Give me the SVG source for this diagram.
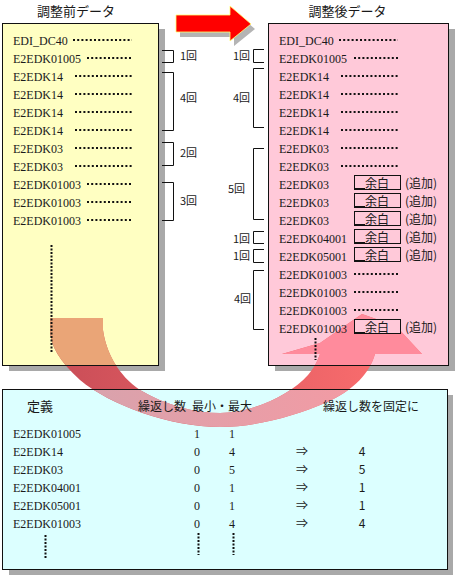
<svg xmlns="http://www.w3.org/2000/svg" width="456" height="580" viewBox="0 0 456 580">
<defs>
<style>
.lat{font-family:"Liberation Serif","Noto Sans CJK JP",serif;font-size:12px;fill:#1a1a1a}
.jp{font-family:"Noto Sans CJK JP",sans-serif;fill:#1a1a1a}
.t{font-size:13px}
.h{font-size:12px}
.lb{font-size:11px}
.dots{stroke:#111;stroke-width:2;stroke-dasharray:2 2.2;fill:none}
.vdots{stroke:#111;stroke-width:2;stroke-dasharray:2 1.5;fill:none}
.br{fill:none;stroke:#111;stroke-width:1}
.shadow{fill:#a9a9a9}
.border{fill:none;stroke:#111;stroke-width:1}
.yel{fill:#ffffc2}
.pnk{fill:#ffc9d9}
.cyn{fill:#dcffff}
.yoha{fill:#ffc9d9;stroke:#111;stroke-width:1}
</style>
<linearGradient id="gBase" x1="50" y1="0" x2="422" y2="0" gradientUnits="userSpaceOnUse">
<stop offset="0" stop-color="#c94d57"/><stop offset="1" stop-color="#ff7070"/>
</linearGradient>
<linearGradient id="gCyan" x1="60" y1="0" x2="380" y2="0" gradientUnits="userSpaceOnUse">
<stop offset="0" stop-color="#d6a3ad"/><stop offset="1" stop-color="#f59aa3"/>
</linearGradient>
<clipPath id="cY"><rect x="3" y="24" width="155" height="341"/></clipPath>
<clipPath id="cC"><rect x="3" y="390" width="444" height="179"/></clipPath>
<clipPath id="cP"><rect x="269" y="24" width="179" height="341"/></clipPath>
<path id="curve" d="M50,318 H103 V330 C106,352 118,375 140,390 C165,405 195,413 220,413 C255,412 290,395 308,375 C314,368 318,360 320,354 L282,354 L320,343 L362,314 L396,326 L422,354 L375,354 C370,372 355,390 325,403 C295,416 255,427 220,427 C170,427 110,405 80,380 C60,362 50,345 50,330 Z"/>
</defs>

<rect width="456" height="580" fill="#ffffff"/>

<!-- titles -->
<text class="jp t" x="76" y="16" text-anchor="middle">調整前データ</text>
<text class="jp t" x="347.5" y="16" text-anchor="middle">調整後データ</text>

<!-- box fills and shadows -->
<g id="box-before-bg">
<rect class="shadow" x="9" y="29" width="156" height="342"/>
<rect class="yel" x="2.5" y="23.5" width="156" height="342"/>
</g>
<g id="box-after-bg">
<rect class="shadow" x="275" y="29" width="180" height="342"/>
<rect class="pnk" x="268.5" y="23.5" width="180" height="342"/>
</g>
<g id="box-def-bg">
<rect class="shadow" x="9" y="395" width="444" height="180"/>
<rect class="cyn" x="2.5" y="389.5" width="445" height="180"/>
</g>

<!-- connectors -->
<g id="connectors">
<g id="curved-arrow">
<use href="#curve" fill="url(#gBase)"/>
<use href="#curve" fill="#eaa577" clip-path="url(#cY)"/>
<use href="#curve" fill="url(#gCyan)" clip-path="url(#cC)"/>
<use href="#curve" fill="#ff8b9c" clip-path="url(#cP)"/>
</g>
<g id="red-arrow">
<polygon points="180,20 234,20 234,11 255,29 234,46 234,37 180,37" fill="#b4b4b4"/>
<polygon points="176,15 230,15 230,6 251,24 230,41 230,32 176,32" fill="#ff0000" stroke="#ffff70" stroke-width="0.8"/>
</g>
<g id="brackets-before">
<path class="br" d="M162,50.5 H173.5 V62.5 H162"/>
<path class="br" d="M162,72.5 H173.5 V130.5 H162"/>
<path class="br" d="M162,142.5 H173.5 V165.5 H162"/>
<path class="br" d="M162,182.5 H173.5 V220.5 H162"/>
</g>
<g id="brackets-after">
<path class="br" d="M264,49.5 H253.5 V62.5 H264"/>
<path class="br" d="M264,68.5 H253.5 V127.5 H264"/>
<path class="br" d="M264,148.5 H253.5 V219.5 H264"/>
<path class="br" d="M264,231.5 H253.5 V243.5 H264"/>
<path class="br" d="M264,249.5 H253.5 V262.5 H264"/>
<path class="br" d="M264,270.5 H253.5 V329.5 H264"/>
</g>
</g>

<!-- box borders on top of arrow -->
<rect class="border" x="2.5" y="23.5" width="156" height="342"/>
<rect class="border" x="268.5" y="23.5" width="180" height="342"/>
<rect class="border" x="2.5" y="389.5" width="445" height="180"/>

<!-- bracket labels -->
<g id="labels-before" class="jp lb">
<text x="180" y="60">1回</text>
<text x="180" y="102">4回</text>
<text x="180" y="157">2回</text>
<text x="180" y="205">3回</text>
</g>
<g id="labels-after" class="jp lb">
<text x="233" y="60">1回</text>
<text x="233" y="102">4回</text>
<text x="228" y="193">5回</text>
<text x="233" y="243">1回</text>
<text x="233" y="260">1回</text>
<text x="234" y="303">4回</text>
</g>

<!-- before data -->
<g id="node-before">
<g class="lat">
<text x="13" y="45">EDI_DC40</text>
<text x="13" y="63">E2EDK01005</text>
<text x="13" y="81">E2EDK14</text>
<text x="13" y="99">E2EDK14</text>
<text x="13" y="117">E2EDK14</text>
<text x="13" y="135">E2EDK14</text>
<text x="13" y="153">E2EDK03</text>
<text x="13" y="171">E2EDK03</text>
<text x="13" y="189">E2EDK01003</text>
<text x="13" y="207">E2EDK01003</text>
<text x="13" y="225">E2EDK01003</text>
</g>
<path class="dots" d="M73,40 H132 M87,58 H133 M75,76 H133 M75,94 H133 M75,112 H133 M75,130 H133 M75,148 H133 M75,166 H133 M87,184 H133 M87,202 H133 M87,220 H133"/>
<path class="vdots" d="M51.5,245 V352"/>
</g>

<!-- after data -->
<g id="node-after">
<g class="lat">
<text x="279" y="45">EDI_DC40</text>
<text x="279" y="63">E2EDK01005</text>
<text x="279" y="81">E2EDK14</text>
<text x="279" y="99">E2EDK14</text>
<text x="279" y="117">E2EDK14</text>
<text x="279" y="135">E2EDK14</text>
<text x="279" y="153">E2EDK03</text>
<text x="279" y="171">E2EDK03</text>
<text x="279" y="189">E2EDK03</text>
<text x="279" y="207">E2EDK03</text>
<text x="279" y="225">E2EDK03</text>
<text x="279" y="243">E2EDK04001</text>
<text x="279" y="261">E2EDK05001</text>
<text x="279" y="279">E2EDK01003</text>
<text x="279" y="297">E2EDK01003</text>
<text x="279" y="315">E2EDK01003</text>
<text x="279" y="333">E2EDK01003</text>
</g>
<path class="dots" d="M339,40 H398 M354,58 H398 M341,76 H399 M341,94 H399 M341,112 H399 M341,130 H399 M341,148 H399 M341,166 H399 M354,274 H399 M354,292 H399 M354,310 H399"/>
<g id="yohaku">
<rect class="yoha" x="354.5" y="175.5" width="46" height="14"/>
<rect class="yoha" x="354.5" y="193.5" width="46" height="14"/>
<rect class="yoha" x="354.5" y="211.5" width="46" height="14"/>
<rect class="yoha" x="354.5" y="229.5" width="46" height="14"/>
<rect class="yoha" x="354.5" y="247.5" width="46" height="14"/>
<rect class="yoha" x="354.5" y="319.5" width="46" height="14"/>
<path d="M354,189 h11 M354,207 h11 M354,225 h11 M354,243 h11 M354,261 h11 M354,333 h11" stroke="#111" stroke-width="2"/>
<g class="jp h" text-anchor="middle">
<text x="377" y="188">余白</text>
<text x="377" y="206">余白</text>
<text x="377" y="224">余白</text>
<text x="377" y="242">余白</text>
<text x="377" y="260">余白</text>
<text x="377" y="332">余白</text>
</g>
<g class="jp h">
<text x="405" y="188">(追加)</text>
<text x="405" y="206">(追加)</text>
<text x="405" y="224">(追加)</text>
<text x="405" y="242">(追加)</text>
<text x="405" y="260">(追加)</text>
<text x="405" y="332">(追加)</text>
</g>
</g>
<path class="vdots" d="M315.5,338 V360"/>
</g>

<!-- definition table -->
<g id="node-definition">
<text class="jp" x="27" y="411" font-size="13px">定義</text>
<text class="jp h" x="138" y="411">繰返し数</text>
<text class="jp h" x="192" y="411">最小・最大</text>
<text class="jp h" x="323" y="411">繰返し数を固定に</text>
<g class="lat">
<text x="13" y="438">E2EDK01005</text>
<text x="13" y="456">E2EDK14</text>
<text x="13" y="474">E2EDK03</text>
<text x="13" y="492">E2EDK04001</text>
<text x="13" y="510">E2EDK05001</text>
<text x="13" y="528">E2EDK01003</text>
</g>
<g class="lat" text-anchor="middle">
<text x="197" y="438">1</text><text x="232" y="438">1</text>
<text x="197" y="456">0</text><text x="232" y="456">4</text>
<text x="197" y="474">0</text><text x="232" y="474">5</text>
<text x="197" y="492">0</text><text x="232" y="492">1</text>
<text x="197" y="510">0</text><text x="232" y="510">1</text>
<text x="197" y="528">0</text><text x="232" y="528">4</text>
</g>
<g class="jp h" text-anchor="middle">
<text x="302" y="456">⇒</text><text x="362" y="456">4</text>
<text x="302" y="474">⇒</text><text x="362" y="474">5</text>
<text x="302" y="492">⇒</text><text x="362" y="492">1</text>
<text x="302" y="510">⇒</text><text x="362" y="510">1</text>
<text x="302" y="528">⇒</text><text x="362" y="528">4</text>
</g>
<path class="vdots" d="M45.5,535 V558 M198.5,533 V555 M233.5,533 V555"/>
</g>
</svg>
